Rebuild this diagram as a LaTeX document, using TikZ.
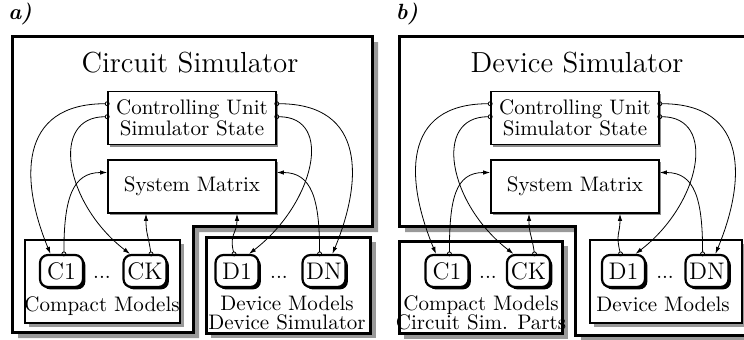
\documentclass[tikz,border=0pt]{standalone}
\usetikzlibrary{positioning,arrows.meta,shadows}
\tikzstyle{outerbox}=[draw, line width=1.5pt, fill=white]
\tikzstyle{innerbox}=[draw, line width=1pt, fill=white]
\tikzstyle{boxshade}=[fill=black!40]
\tikzstyle{unit}=[draw, line width=0.8pt, fill=white, minimum width=84pt, minimum height=26.5pt, inner sep=0pt, align=center, drop shadow={shadow xshift=1pt, shadow yshift=-1pt, fill=black!45, opacity=1}]
\tikzstyle{model}=[draw, rounded corners=4pt, line width=1.1pt, fill=white, minimum width=21.5pt, minimum height=16pt, inner sep=0pt, font=\fontsize{12}{14}\selectfont, drop shadow={shadow xshift=1.2pt, shadow yshift=-1.2pt, fill=black, opacity=1}]
\tikzstyle{headline}=[font=\fontsize{14.5}{16}\selectfont]
\tikzstyle{boxlabel}=[align=center, font=\fontsize{10.5}{9.8}\selectfont]
\tikzstyle{link}=[line width=0.4pt, {Circle[open,length=2.4pt]}-{Latex[length=3.5pt,width=2.2pt]}, shorten <=-1.2pt]
\newcommand{\drawlinks}[1]{
  \draw[link] ([yshift=-6.5pt]cu#1.north west) .. controls +(-90,0) and +(-30,-72) .. ([xshift=-5.5pt]c1#1.north);
  \draw[link] ([yshift=-13pt]cu#1.north west) .. controls +(-58,0) and +(-65,-50) .. ([xshift=-7.5pt]ck#1.north);
  \draw[link] ([xshift=1.2pt]c1#1.north) .. controls +(0,-55) and +(-35,0) .. ([yshift=7pt]sm#1.west);
  \draw[link] ([xshift=3pt]ck#1.north) .. controls +(-3,-20) and +(0,20) .. ([xshift=-23pt]sm#1.south);
  \draw[link] ([xshift=-1.5pt]d1#1.north) .. controls +(-5,-20) and +(0,20) .. ([xshift=22.5pt]sm#1.south);
  \draw[link] ([xshift=-2.2pt]dn#1.north) .. controls +(0,-55) and +(35,0) .. ([yshift=7pt]sm#1.east);
  \draw[link] ([yshift=-6.5pt]cu#1.north east) .. controls +(90,0) and +(30,-72) .. ([xshift=4.2pt]dn#1.north);
  \draw[link] ([yshift=-13pt]cu#1.north east) .. controls +(58,0) and +(65,-50) .. ([xshift=6pt]d1#1.north);
}

\begin{document}
\begin{tikzpicture}[x=0.5pt, y=-0.5pt, font=\fontsize{10.5}{8.5}\selectfont]
  \useasboundingbox (0,0) rectangle (744,339);
  % panel a
  \node (labA) at (20,14) {\fontsize{11}{13}\selectfont\textbf{\textit{a)}}};
  \fill[boxshade] (18,42) -- (378,42) -- (378,232) -- (199,232) -- (199,338) -- (18,338) -- cycle;
  \draw[outerbox] (12,36) -- (372,36) -- (372,226) -- (193,226) -- (193,332) -- (12,332) -- cycle;
  \fill[boxshade] (29,244) rectangle (184,327);
  \draw[innerbox] (25,240) rectangle (180,323);
  \fill[boxshade] (211,242) rectangle (376,338);
  \draw[outerbox] (206,237) rectangle (370,333);
  \node[headline] (titA) at (190,63) {Circuit Simulator};
  \node[unit] (cuA) at (192,118) {Controlling Unit\\Simulator State};
  \node[unit] (smA) at (192,186.5) {System Matrix};
  \node[model] (c1A) at (61.5,271) {C1};
  \node[model] (ckA) at (145,271) {CK};
  \node[model] (d1A) at (237,271) {D1};
  \node[model] (dnA) at (324,271) {DN};
  \node (dotA1) at (102,277) {...};
  \node (dotA2) at (279,277) {...};
  \node[boxlabel] (cmA) at (102,306) {Compact Models};
  \node[boxlabel] (dmA) at (287,313) {Device Models\\Device Simulator};
  \drawlinks{A}

  % panel b
  \node (labB) at (407,14) {\fontsize{11}{13}\selectfont\textbf{\textit{b)}}};
  \fill[boxshade] (405,42) -- (754,42) -- (754,342) -- (581,342) -- (581,232) -- (405,232) -- cycle;
  \draw[outerbox] (399,36) -- (748,36) -- (748,335) -- (575,335) -- (575,226) -- (399,226) -- cycle;
  \fill[boxshade] (404,246) rectangle (568,339);
  \draw[outerbox] (399,241) rectangle (562,333);
  \fill[boxshade] (594,244) rectangle (748,327);
  \draw[innerbox] (590,240) rectangle (742,323);
  \node[headline] (titB) at (577,63) {Device Simulator};
  \node[unit] (cuB) at (575,118) {Controlling Unit\\Simulator State};
  \node[unit] (smB) at (575,186.5) {System Matrix};
  \node[model] (c1B) at (447,271) {C1};
  \node[model] (ckB) at (528.5,271) {CK};
  \node[model] (d1B) at (623.5,271) {D1};
  \node[model] (dnB) at (707,271) {DN};
  \node (dotB1) at (488,277) {...};
  \node (dotB2) at (665,277) {...};
  \node[boxlabel] (cmB) at (481,313) {Compact Models\\Circuit Sim. Parts};
  \node[boxlabel] (dmB) at (663,304) {Device Models};
  \drawlinks{B}
\end{tikzpicture}
\end{document}
